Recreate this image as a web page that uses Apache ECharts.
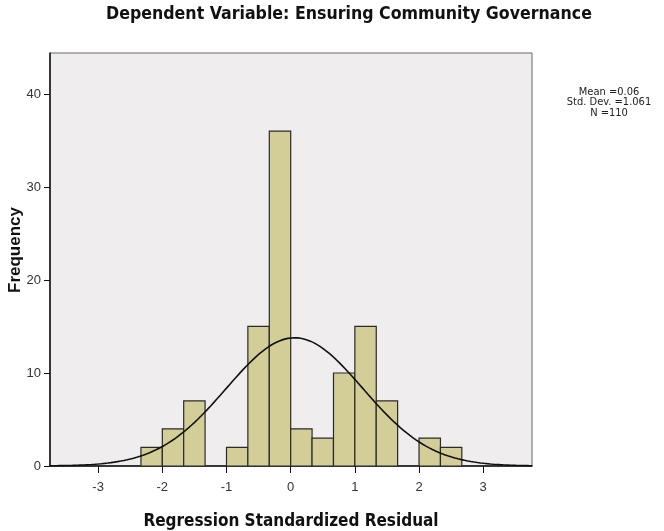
<!DOCTYPE html>
<html><head><meta charset="utf-8">
<script src="https://cdn.jsdelivr.net/npm/echarts@6/dist/echarts.min.js"></script>
<style>html,body{margin:0;padding:0;background:#fff}#c{width:664px;height:531px}</style>
</head><body><div id="c"></div>
<script>
// ---- data ----
const titleText = 'Dependent Variable: Ensuring Community Governance';
const xAxisName = 'Regression Standardized Residual';
const yAxisName = 'Frequency';
const binStarts = [-2.333, -2.0, -1.667, -1.333, -1.0, -0.667, -0.333, 0.0, 0.333, 0.667, 1.0, 1.333, 1.667, 2.0, 2.333];
const binCounts = [2, 4, 7, 0, 2, 15, 36, 4, 3, 10, 15, 7, 0, 3, 2];
const binWidth = 1 / 3;
const xTicks = [-3, -2, -1, 0, 1, 2, 3];
const yTicks = [0, 10, 20, 30, 40];
const statMean = 0.06;
const statSD = 1.061;
const statN = 110;
const statLines = ['Mean =0.06', 'Std. Dev. =1.061', 'N =110'];

// normal curve from the stated fit (mean, SD, N) scaled to bin width
const curvePts = [];
for (let i = 0; i <= 300; i++) {
  const x = -3.75 + i * (7.51 / 300);
  const z = (x - statMean) / statSD;
  curvePts.push([x, statN * binWidth * Math.exp(-0.5 * z * z) / (statSD * Math.sqrt(2 * Math.PI))]);
}
const barData = binStarts.map((s, i) => [s, s + binWidth, binCounts[i]]).filter(d => d[2] > 0);

const narrow = "'DejaVu Sans Condensed','Liberation Sans',Arial,sans-serif";
const arial = "'Liberation Sans',Arial,sans-serif";
const chart = echarts.init(document.getElementById('c'), null, {renderer: 'canvas'});
chart.setOption({
  animation: false,
  backgroundColor: '#ffffff',
  title: {
    text: titleText, left: 344, top: 0, textAlign: 'center',
    textStyle: {fontFamily: narrow, fontSize: 17.6, fontWeight: 'bold', color: '#111'}
  },
  grid: {left: 50, right: 132, top: 53, bottom: 65, outerBoundsMode: 'none', containLabel: false,
    show: true, backgroundColor: '#efeded', borderColor: '#666', borderWidth: 1},
  xAxis: {
    type: 'value', min: -3.75, max: 3.76,
    name: xAxisName, nameLocation: 'middle', nameGap: 47,
    nameTextStyle: {fontFamily: narrow, fontSize: 17, fontWeight: 'bold', color: '#111'},
    axisLine: {show: true, onZero: false, lineStyle: {color: '#111', width: 1.5}},
    axisTick: {show: true, length: 7, lineStyle: {color: '#111'}, customValues: xTicks},
    axisLabel: {fontFamily: arial, fontSize: 13, color: '#333', margin: 15, customValues: xTicks, formatter: v => String(v)},
    splitLine: {show: false}
  },
  yAxis: {
    type: 'value', min: 0, max: 44.4,
    axisLine: {show: true, onZero: false, lineStyle: {color: '#111', width: 1.5}},
    axisTick: {show: true, length: 6, lineStyle: {color: '#111'}, customValues: yTicks},
    axisLabel: {fontFamily: arial, fontSize: 13, color: '#333', margin: 9, customValues: yTicks},
    splitLine: {show: false}
  },
  series: [
    {
      type: 'custom', data: barData, z: 2,
      renderItem: function (params, api) {
        const p0 = api.coord([api.value(0), 0]);
        const p1 = api.coord([api.value(1), api.value(2)]);
        return {
          type: 'rect',
          shape: {x: p0[0], y: p1[1], width: p1[0] - p0[0], height: p0[1] - p1[1]},
          style: {fill: '#d3ce97', stroke: '#2a2a2a', lineWidth: 1.2}
        };
      },
      encode: {x: [0, 1], y: 2}
    },
    {
      type: 'line', data: curvePts, showSymbol: false, smooth: false, z: 3,
      lineStyle: {color: '#111', width: 1.6}
    }
  ],
  graphic: [
    {
      type: 'text', x: 15, y: 250, rotation: Math.PI / 2,
      style: {text: yAxisName, fontFamily: arial, fontSize: 17, fontWeight: 'bold', fill: '#111',
        textAlign: 'center', textVerticalAlign: 'middle'}
    }
  ].concat(statLines.map((t, i) => ({
    type: 'text', x: 609, y: 92 + i * 10.5,
    style: {text: t, fontFamily: narrow, fontSize: 11, fill: '#222', textAlign: 'center', textVerticalAlign: 'middle'}
  })))
});
</script>
</body></html>
